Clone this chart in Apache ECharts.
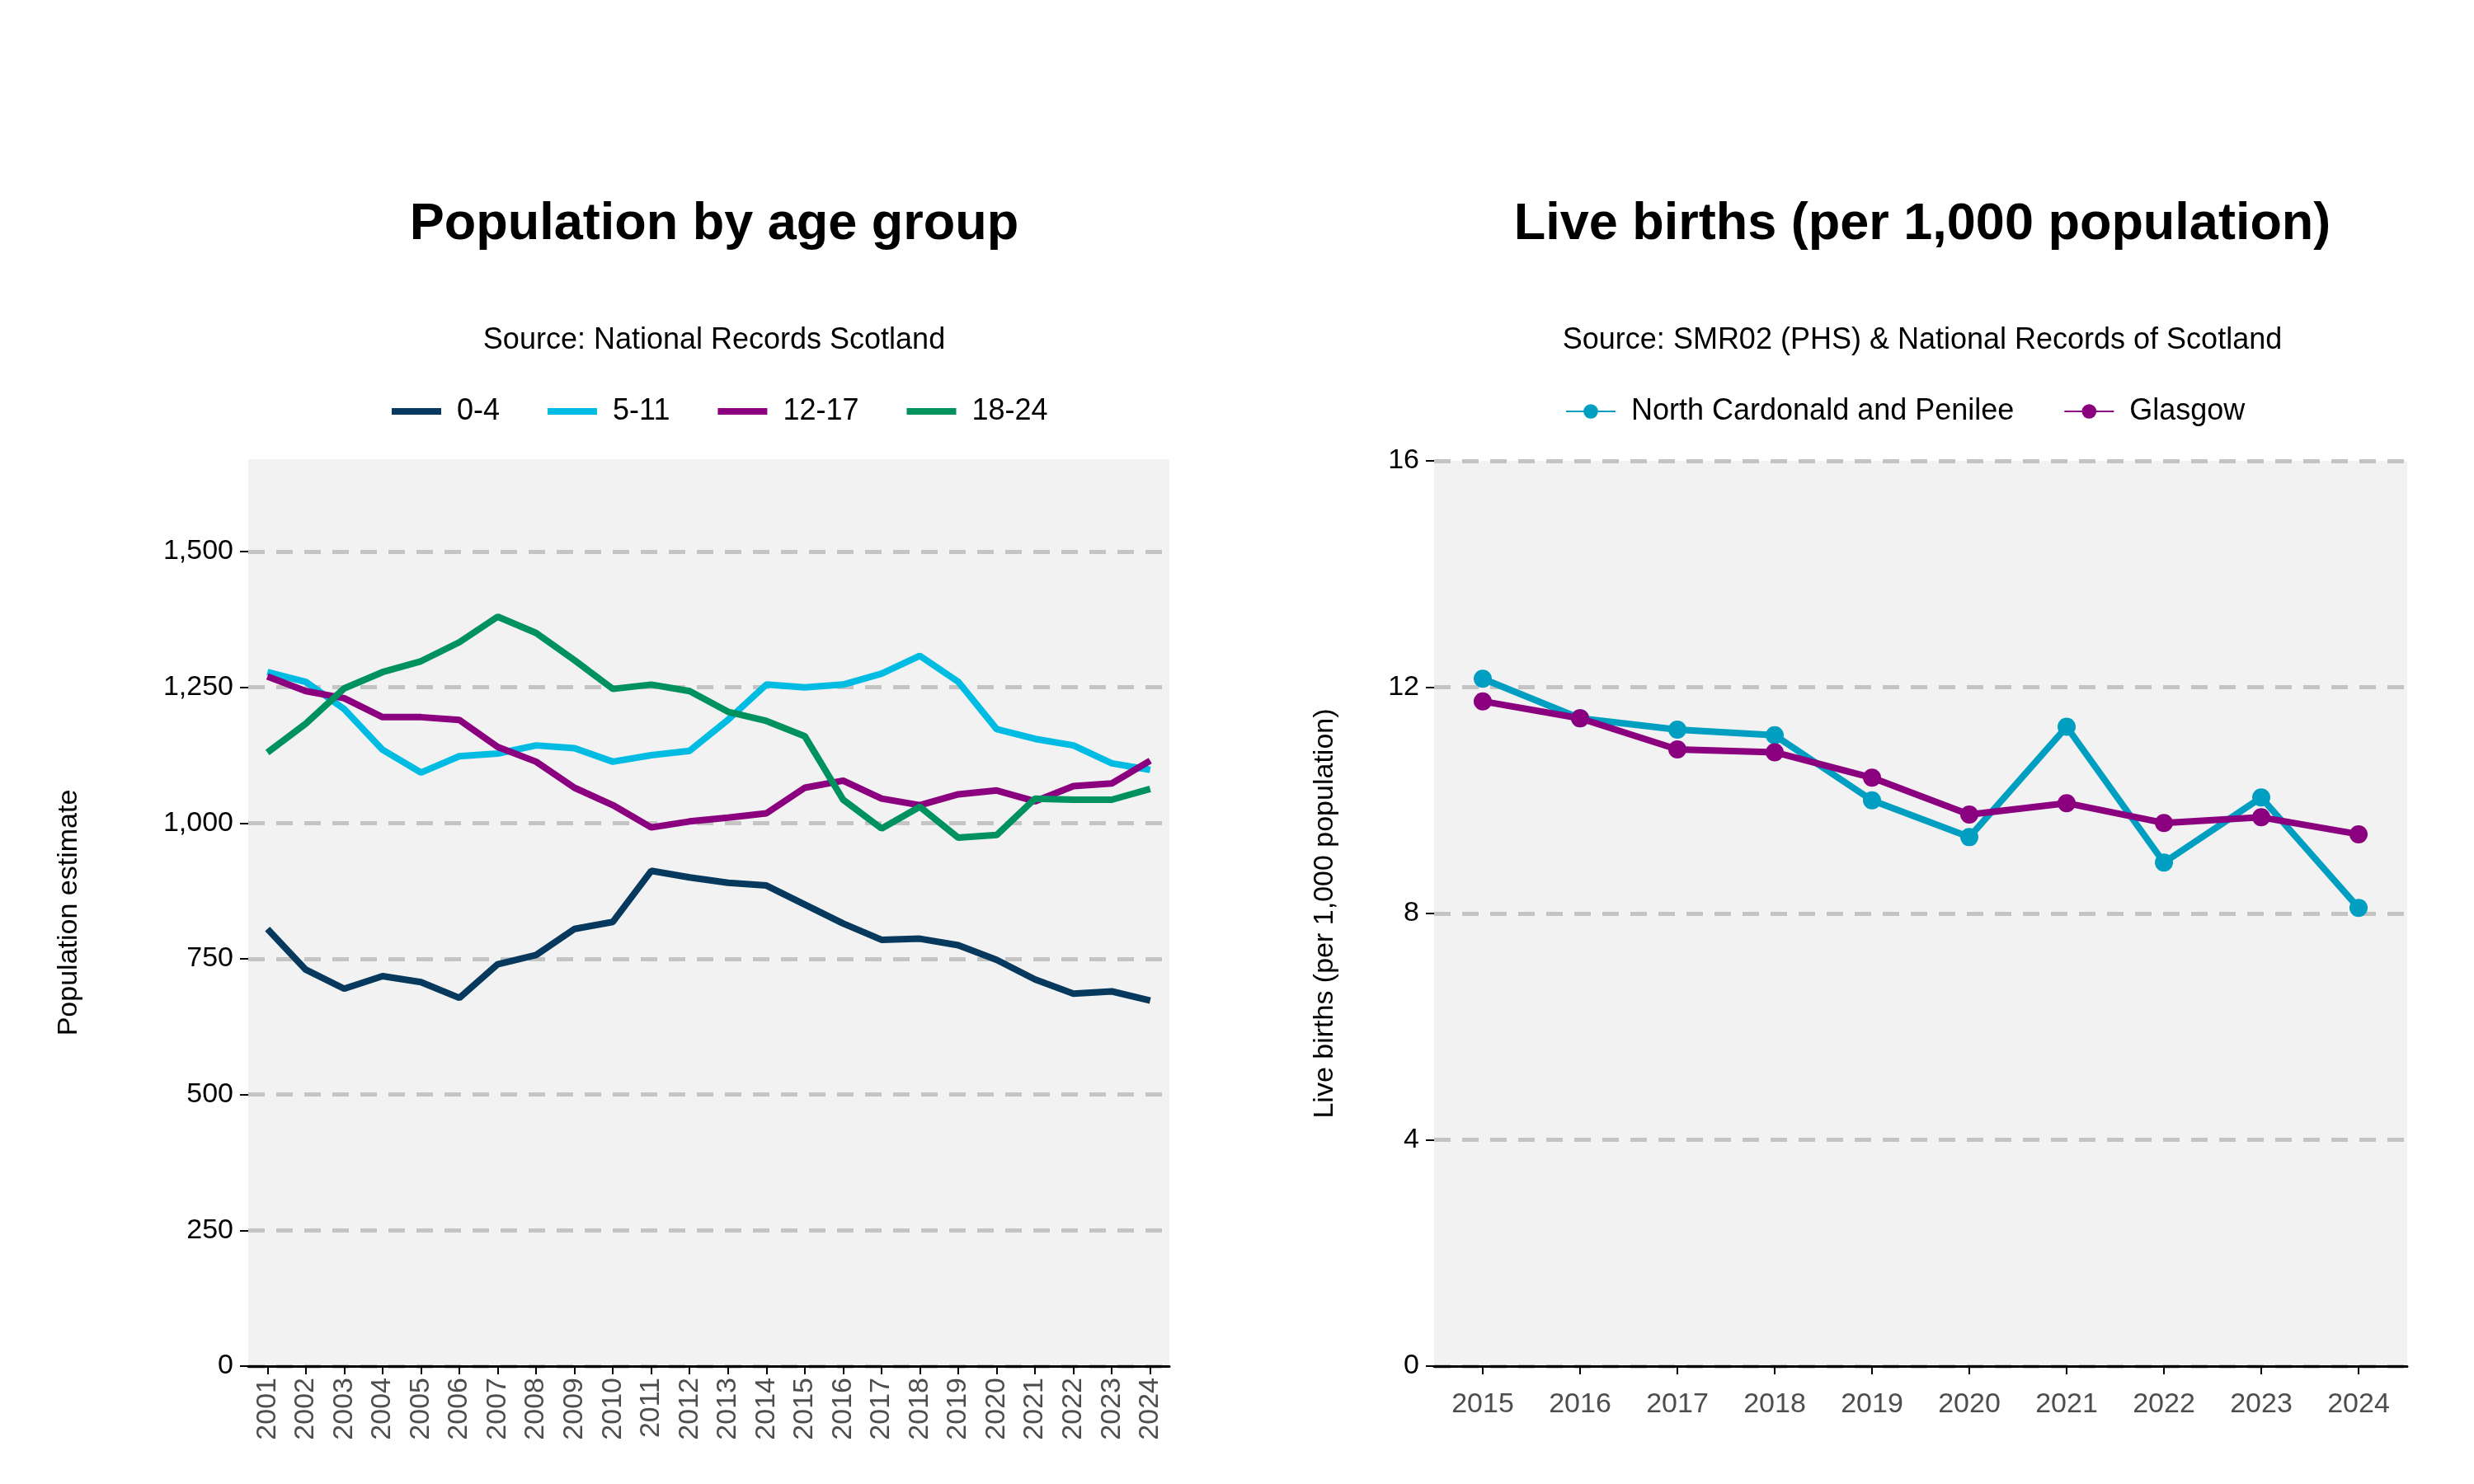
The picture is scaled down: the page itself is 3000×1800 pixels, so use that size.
<!DOCTYPE html>
<html>
<head>
<meta charset="utf-8">
<script src="https://cdn.jsdelivr.net/npm/echarts@6/dist/echarts.min.js"></script>
<style>html,body{margin:0;background:#fff}#main{width:3000px;height:1800px}</style>
</head>
<body>
<div id="main"></div>
<script>
const years = ['2001','2002','2003','2004','2005','2006','2007','2008','2009','2010','2011','2012','2013','2014','2015','2016','2017','2018','2019','2020','2021','2022','2023','2024']
const age0to4 = [805,730,695,718,707,678,740,757,805,818,912,900,890,885,850,815,785,787,775,748,712,686,690,673]
const age5to11 = [1278,1260,1210,1135,1093,1123,1128,1143,1138,1113,1125,1133,1190,1255,1250,1255,1275,1308,1260,1173,1155,1143,1110,1098]
const age12to17 = [1270,1243,1230,1195,1195,1190,1140,1113,1065,1033,992,1003,1010,1018,1065,1078,1045,1033,1053,1060,1040,1068,1073,1115]
const age18to24 = [1130,1183,1248,1278,1298,1333,1380,1350,1300,1247,1255,1243,1205,1188,1160,1043,990,1030,973,978,1045,1043,1043,1063]
const popTicks = [0,250,500,750,1000,1250,1500]

const birthYears = ['2015','2016','2017','2018','2019','2020','2021','2022','2023','2024']
const northCardonald = [12.15,11.45,11.25,11.15,10.0,9.35,11.3,8.9,10.05,8.1]
const glasgow = [11.75,11.45,10.9,10.85,10.4,9.75,9.95,9.6,9.7,9.4]

const font = 'Liberation Sans'
const chart = echarts.init(document.getElementById('main'))

const splitLine = { show: true, lineStyle: { color: '#c4c4c4', type: [20, 14], width: 5 } }
const xAxisBase = {
  type: 'category', boundaryGap: true,
  axisLine: { lineStyle: { color: '#000', width: 3 } },
  axisTick: { show: true, lineStyle: { color: '#000', width: 2 }, alignWithLabel: true, length: 10 },
  axisLabel: { color: '#4d4d4d', fontSize: 34, fontFamily: font }
}
const yAxisBase = {
  type: 'value', min: 0, splitLine,
  axisLine: { show: false },
  axisTick: { show: true, length: 10, lineStyle: { color: '#000', width: 2 } },
  axisLabel: { color: '#000', fontSize: 34, fontFamily: font, margin: 18 },
  nameLocation: 'middle',
  nameTextStyle: { color: '#000', fontSize: 34, fontFamily: font }
}
const line = (name, data, color, xi, sym) => ({
  name, type: 'line', data, xAxisIndex: xi, yAxisIndex: xi,
  lineStyle: { color, width: 8 }, itemStyle: { color },
  symbol: sym ? 'circle' : 'none', symbolSize: 22, showSymbol: !!sym
})

chart.setOption({
  animation: false,
  backgroundColor: '#fff',
  title: [
    { text: 'Population by age group', left: 861, top: 236, textAlign: 'center',
      textStyle: { fontSize: 63, fontWeight: 'bold', fontFamily: font, color: '#000' } },
    { text: 'Source: National Records Scotland', left: 861, top: 390, textAlign: 'center',
      textStyle: { fontSize: 36, fontWeight: 'normal', fontFamily: font, color: '#000' } },
    { text: 'Live births (per 1,000 population)', left: 2326, top: 236, textAlign: 'center',
      textStyle: { fontSize: 63, fontWeight: 'bold', fontFamily: font, color: '#000' } },
    { text: 'Source: SMR02 (PHS) & National Records of Scotland', left: 2326, top: 390, textAlign: 'center',
      textStyle: { fontSize: 36, fontWeight: 'normal', fontFamily: font, color: '#000' } }
  ],
  legend: [
    { data: ['0-4','5-11','12-17','18-24'], left: 470, top: 476,
      itemWidth: 60, itemHeight: 8, itemGap: 58, icon: 'rect',
      textStyle: { fontSize: 36, fontFamily: font, color: '#000', padding: [0, 0, 0, 14] } },
    { data: ['North Cardonald and Penilee','Glasgow'], left: 1893, top: 476,
      itemWidth: 60, itemHeight: 22, itemGap: 60,
      textStyle: { fontSize: 36, fontFamily: font, color: '#000', padding: [0, 0, 0, 14] } }
  ],
  grid: [
    { left: 301, top: 557, width: 1117, height: 1100, backgroundColor: '#f2f2f2', show: true, borderWidth: 0 },
    { left: 1739, top: 559, width: 1180, height: 1098, backgroundColor: '#f2f2f2', show: true, borderWidth: 0 }
  ],
  xAxis: [
    Object.assign({}, xAxisBase, { gridIndex: 0, data: years,
      axisLabel: Object.assign({}, xAxisBase.axisLabel, { rotate: 90, margin: 14 }) }),
    Object.assign({}, xAxisBase, { gridIndex: 1, data: birthYears,
      axisLabel: Object.assign({}, xAxisBase.axisLabel, { margin: 30 }) })
  ],
  yAxis: [
    Object.assign({}, yAxisBase, { gridIndex: 0, max: 1670,
      name: 'Population estimate', nameGap: 200,
      axisTick: Object.assign({}, yAxisBase.axisTick, { customValues: popTicks }),
      splitLine: Object.assign({}, splitLine, { customValues: popTicks }),
      axisLabel: Object.assign({}, yAxisBase.axisLabel, { customValues: popTicks,
        formatter: v => v.toLocaleString('en-GB') }) }),
    Object.assign({}, yAxisBase, { gridIndex: 1, max: 16, interval: 4,
      name: 'Live births (per 1,000 population)', nameGap: 115 })
  ],
  series: [
    line('0-4', age0to4, '#06395d', 0),
    line('5-11', age5to11, '#00bce3', 0),
    line('12-17', age12to17, '#8b007e', 0),
    line('18-24', age18to24, '#00925e', 0),
    line('North Cardonald and Penilee', northCardonald, '#009fc1', 1, true),
    line('Glasgow', glasgow, '#8b007e', 1, true)
  ]
})
</script>
</body>
</html>
